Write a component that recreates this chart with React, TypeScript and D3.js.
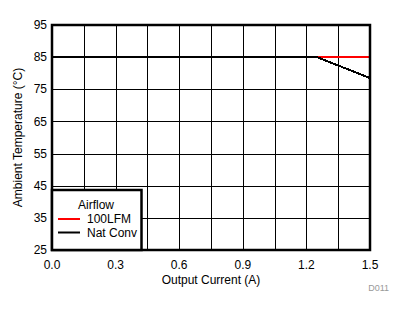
import React from "react";
import * as d3 from "d3";

const xTicks = [0, 0.3, 0.6, 0.9, 1.2, 1.5];
const xGrid = [0, 0.15, 0.3, 0.45, 0.6, 0.75, 0.9, 1.05, 1.2, 1.35, 1.5];
const yTicks = [25, 35, 45, 55, 65, 75, 85, 95];
const seriesNames = ["100LFM", "Nat Conv"];
const seriesColors = ["#ff0000", "#000000"];
const lfmX = [0, 1.5];
const lfmY = [85, 85];
const natX = [0, 1.25, 1.5];
const natY = [85, 85, 78.5];

export default function App() {
  const W = 403, H = 313;
  const L = 52, R = 370, T = 25, B = 250;
  const x = d3.scaleLinear().domain([0, 1.5]).range([L, R]);
  const y = d3.scaleLinear().domain([25, 95]).range([B, T]);
  const line = d3.line<[number, number]>().x(d => x(d[0])).y(d => y(d[1]));
  const lfm = lfmX.map((v, i) => [v, lfmY[i]] as [number, number]);
  const nat = natX.map((v, i) => [v, natY[i]] as [number, number]);
  const font = "'Liberation Sans', Arial, sans-serif";
  return (
    <svg width={W} height={H} style={{ position: "absolute", left: 0, top: 0, background: "#fff" }} fontFamily={font}>
      <rect width={W} height={H} fill="#fff" />
      {xGrid.map(v => (
        <line key={"xg" + v} x1={Math.round(x(v)) + 0.5} x2={Math.round(x(v)) + 0.5} y1={T} y2={B} stroke="#000" strokeWidth={1} shapeRendering="crispEdges" />
      ))}
      {yTicks.map(v => (
        <line key={"yg" + v} x1={L} x2={R} y1={Math.round(y(v)) + 0.5} y2={Math.round(y(v)) + 0.5} stroke="#000" strokeWidth={1} shapeRendering="crispEdges" />
      ))}
      <path d={line(lfm) || ""} fill="none" stroke={seriesColors[0]} strokeWidth={2} shapeRendering="crispEdges" />
      <path d={line(nat) || ""} fill="none" stroke={seriesColors[1]} strokeWidth={2} shapeRendering="crispEdges" />
      <rect x={L} y={T} width={R - L} height={B - T} fill="none" stroke="#000" strokeWidth={2.5} />
      {yTicks.map(v => (
        <text key={"yt" + v} x={L - 5} y={y(v)} dy="0.35em" textAnchor="end" fontSize={12}>{v}</text>
      ))}
      {xTicks.map(v => (
        <text key={"xt" + v} x={x(v)} y={B + 19} textAnchor="middle" fontSize={12}>{v.toFixed(1)}</text>
      ))}
      <text x={(L + R) / 2} y={284} textAnchor="middle" fontSize={12}>Output Current (A)</text>
      <text transform={`translate(22, ${(T + B) / 2}) rotate(-90)`} textAnchor="middle" fontSize={12}>Ambient Temperature (°C)</text>
      <text x={389} y={291} textAnchor="end" fontSize={9} fill="#999">D011</text>
      <rect x={L} y={190} width={89.5} height={B - 190} fill="#fff" stroke="#000" strokeWidth={2.5} />
      <text x={96} y={209} textAnchor="middle" fontSize={12}>Airflow</text>
      {seriesNames.map((n, i) => (
        <g key={n}>
          <line x1={58} x2={80} y1={219 + i * 13.5} y2={219 + i * 13.5} stroke={seriesColors[i]} strokeWidth={2} />
          <text x={87} y={219 + i * 13.5} dy="0.35em" fontSize={12}>{n}</text>
        </g>
      ))}
    </svg>
  );
}
